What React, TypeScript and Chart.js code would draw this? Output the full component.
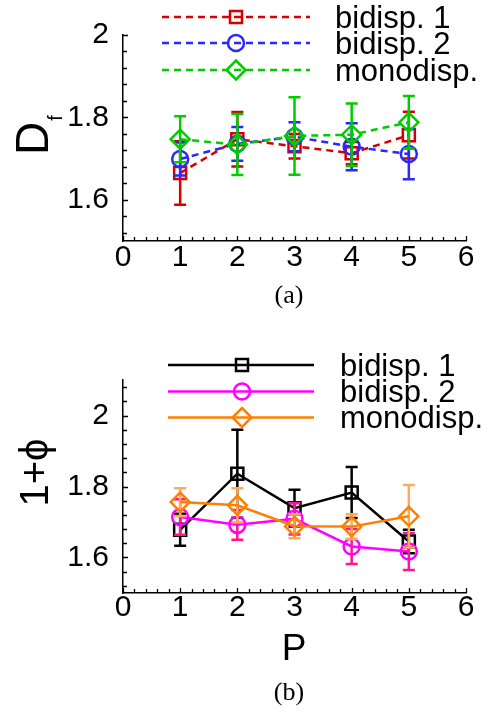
import React, { useEffect, useRef } from "react";
import { Chart, registerables } from "chart.js";

Chart.register(...registerables);

// ---------- data ----------
const P_VALUES = [1, 2, 3, 4, 5];
const X_TICKS = [0, 1, 2, 3, 4, 5, 6];
const Y_TICKS = [1.6, 1.8, 2];
const SERIES_LABELS = ["bidisp. 1", "bidisp. 2", "monodisp."];

// panel (a): D_f
const DF_BIDISP1 = [1.665, 1.747, 1.73, 1.713, 1.757];
const DF_BIDISP1_ERR = [0.077, 0.066, 0.03, 0.027, 0.057];
const DF_BIDISP2 = [1.699, 1.736, 1.753, 1.729, 1.711];
const DF_BIDISP2_ERR = [0.04, 0.041, 0.035, 0.057, 0.061];
const DF_MONO = [1.747, 1.734, 1.755, 1.758, 1.788];
const DF_MONO_ERR = [0.056, 0.074, 0.094, 0.076, 0.064];

// panel (b): 1+phi
const PHI_BIDISP1 = [1.678, 1.836, 1.739, 1.783, 1.645];
const PHI_BIDISP1_ERR = [0.045, 0.124, 0.052, 0.072, 0.033];
const PHI_BIDISP2 = [1.714, 1.692, 1.709, 1.631, 1.617];
const PHI_BIDISP2_ERR = [0.05, 0.042, 0.044, 0.049, 0.052];
const PHI_MONO = [1.756, 1.747, 1.688, 1.687, 1.716];
const PHI_MONO_ERR = [0.039, 0.048, 0.034, 0.035, 0.088];

const SANS = "'Liberation Sans', Arial, Helvetica, sans-serif";
const SERIF = "'Liberation Serif', 'DejaVu Serif', serif";

type Marker = "rect" | "circle" | "rectRot";

const MARKER_RADIUS: Record<Marker, number> = { rect: 8.5, circle: 8, rectRot: 9.5 };

function drawMarker(ctx: CanvasRenderingContext2D, m: Marker, x: number, y: number) {
  ctx.beginPath();
  if (m === "rect") {
    ctx.rect(x - 6, y - 6, 12, 12);
  } else if (m === "circle") {
    ctx.arc(x, y, 8, 0, Math.PI * 2);
  } else {
    const r = 9.5;
    ctx.moveTo(x, y - r);
    ctx.lineTo(x + r, y);
    ctx.lineTo(x, y + r);
    ctx.lineTo(x - r, y);
    ctx.closePath();
  }
  ctx.stroke();
}

interface SeriesCfg {
  label: string;
  values: number[];
  errs: number[];
  color: string;
  errColor: string;
  marker: Marker;
  dash: number[];
}

interface PanelCfg {
  height: number;
  yMax: number;
  top: number;
  bottom: number; // chart area bottom in canvas px
  series: SeriesCfg[];
  legend: { x0: number; x1: number; xm: number; xt: number; rows: number[] };
  drawYTitle: (ctx: CanvasRenderingContext2D) => void;
  drawXTitle?: (ctx: CanvasRenderingContext2D) => void;
  caption: { text: string; x: number; y: number };
  xTickPad: number;
}

function makeChart(canvas: HTMLCanvasElement, cfg: PanelCfg) {
  const W = 497;
  const right = 466;
  const left = 123;
  const xAxisH = 50;
  const padBottom = cfg.height - cfg.bottom - xAxisH;

  const n = cfg.series.length;
  const datasets = cfg.series.map((s, i) => ({
    label: s.label,
    data: P_VALUES.map((p, k) => ({ x: p, y: s.values[k] })),
    borderColor: s.color,
    backgroundColor: "transparent",
    borderWidth: 2.5,
    borderDash: s.dash,
    pointStyle: s.marker,
    pointRadius: MARKER_RADIUS[s.marker],
    pointBorderWidth: 2.5,
    pointBorderColor: s.color,
    pointBackgroundColor: "transparent",
    tension: 0,
    fill: false,
    clip: false,
    order: n - 1 - i,
    errors: s.errs,
    errorColor: s.errColor,
  }));

  const decor = {
    id: "decor",
    beforeDatasetDraw(chart: any, args: any) {
      const ds = chart.data.datasets[args.index];
      if (!ds.errors) return;
      const ctx = chart.ctx as CanvasRenderingContext2D;
      const xs = chart.scales.x;
      const ys = chart.scales.y;
      ctx.save();
      ctx.strokeStyle = ds.errorColor;
      ctx.lineWidth = 2.5;
      ctx.setLineDash([]);
      ds.data.forEach((pt: any, i: number) => {
        const x = xs.getPixelForValue(pt.x);
        const yTop = ys.getPixelForValue(pt.y + ds.errors[i]);
        const yBot = ys.getPixelForValue(pt.y - ds.errors[i]);
        ctx.beginPath();
        ctx.moveTo(x, yTop);
        ctx.lineTo(x, yBot);
        ctx.moveTo(x - 6, yTop);
        ctx.lineTo(x + 6, yTop);
        ctx.moveTo(x - 6, yBot);
        ctx.lineTo(x + 6, yBot);
        ctx.stroke();
      });
      ctx.restore();
    },
    afterDraw(chart: any) {
      const ctx = chart.ctx as CanvasRenderingContext2D;
      const xs = chart.scales.x;
      const ys = chart.scales.y;
      const area = chart.chartArea;
      ctx.save();
      // inward ticks
      ctx.strokeStyle = "#000";
      ctx.lineWidth = 1.3;
      ctx.beginPath();
      for (let k = 0; k <= 30; k++) {
        const v = k * 0.2;
        const x = Math.round(xs.getPixelForValue(v)) + 0.5;
        const len = k % 5 === 0 ? 5 : 4;
        ctx.moveTo(x, area.bottom);
        ctx.lineTo(x, area.bottom - len);
      }
      for (let k = 0; ; k++) {
        const v = 1.52 + k * 0.04;
        if (v > cfg.yMax + 1e-6) break;
        const y = Math.round(ys.getPixelForValue(v)) + 0.5;
        const major = Math.abs(v - 1.6) < 1e-6 || Math.abs(v - 1.8) < 1e-6 || Math.abs(v - 2) < 1e-6;
        ctx.moveTo(area.left, y);
        ctx.lineTo(area.left + (major ? 5 : 4), y);
      }
      ctx.stroke();

      // legend
      const lg = cfg.legend;
      cfg.series.forEach((s, i) => {
        const y = lg.rows[i];
        ctx.strokeStyle = s.color;
        ctx.lineWidth = 2.5;
        ctx.setLineDash(s.dash);
        ctx.beginPath();
        ctx.moveTo(lg.x0, y);
        ctx.lineTo(lg.x1, y);
        ctx.stroke();
        ctx.setLineDash([]);
        drawMarker(ctx, s.marker, lg.xm, y);
        ctx.fillStyle = "#000";
        ctx.font = `31px ${SANS}`;
        ctx.textAlign = "left";
        ctx.textBaseline = "alphabetic";
        ctx.fillText(s.label, lg.xt, y + 10.5);
      });

      // titles
      ctx.fillStyle = "#000";
      cfg.drawYTitle(ctx);
      if (cfg.drawXTitle) cfg.drawXTitle(ctx);
      ctx.font = `26px ${SERIF}`;
      ctx.textAlign = "center";
      ctx.textBaseline = "alphabetic";
      ctx.fillText(cfg.caption.text, cfg.caption.x, cfg.caption.y);
      ctx.restore();
    },
  };

  return new Chart(canvas, {
    type: "line",
    data: { datasets: datasets as any },
    options: {
      responsive: false,
      animation: false,
      devicePixelRatio: 1,
      events: [],
      layout: { padding: { left: 0, right: W - right, top: cfg.top, bottom: padBottom } },
      plugins: { legend: { display: false }, tooltip: { enabled: false }, title: { display: false } },
      scales: {
        x: {
          type: "linear",
          min: 0,
          max: 6,
          grid: { display: false },
          border: { display: true, color: "#000", width: 1.5 },
          ticks: {
            color: "#000",
            font: { family: SANS, size: 30 },
            padding: cfg.xTickPad,
            autoSkip: false,
            maxRotation: 0,
            callback: (v: any) => String(v),
          },
          afterBuildTicks: (s: any) => {
            s.ticks = X_TICKS.map((v) => ({ value: v }));
          },
          afterFit: (s: any) => {
            s.height = xAxisH;
          },
        },
        y: {
          type: "linear",
          min: 1.5,
          max: cfg.yMax,
          grid: { display: false },
          border: { display: true, color: "#000", width: 1.5 },
          ticks: {
            color: "#000",
            font: { family: SANS, size: 30 },
            padding: 6,
            autoSkip: false,
            callback: (v: any) => String(v),
          },
          afterBuildTicks: (s: any) => {
            s.ticks = Y_TICKS.map((v) => ({ value: v }));
          },
          afterFit: (s: any) => {
            s.width = left;
          },
        },
      },
    } as any,
    plugins: [decor],
  });
}

const PANEL_A: PanelCfg = {
  height: 330,
  yMax: 2,
  top: 35,
  bottom: 241,
  xTickPad: -9,
  series: [
    { label: SERIES_LABELS[0], values: DF_BIDISP1, errs: DF_BIDISP1_ERR, color: "rgb(215,0,0)", errColor: "rgb(215,0,0)", marker: "rect", dash: [7, 5] },
    { label: SERIES_LABELS[1], values: DF_BIDISP2, errs: DF_BIDISP2_ERR, color: "rgb(40,40,255)", errColor: "rgb(40,40,255)", marker: "circle", dash: [7, 5] },
    { label: SERIES_LABELS[2], values: DF_MONO, errs: DF_MONO_ERR, color: "rgb(0,205,0)", errColor: "rgb(0,205,0)", marker: "rectRot", dash: [7, 5] },
  ],
  legend: { x0: 162, x1: 310, xm: 236, xt: 335, rows: [17, 43, 70] },
  drawYTitle: (ctx) => {
    ctx.save();
    ctx.translate(48, 155);
    ctx.rotate(-Math.PI / 2);
    ctx.textAlign = "left";
    ctx.textBaseline = "alphabetic";
    ctx.font = `46px ${SANS}`;
    ctx.fillText("D", 0, 0);
    const w = ctx.measureText("D").width;
    ctx.font = `20px ${SANS}`;
    ctx.fillText("f", w + 1, 14);
    ctx.restore();
  },
  caption: { text: "(a)", x: 289, y: 303 },
};

const PANEL_B: PanelCfg = {
  height: 383,
  yMax: 2.1,
  top: 50,
  bottom: 263,
  xTickPad: -11,
  series: [
    { label: SERIES_LABELS[0], values: PHI_BIDISP1, errs: PHI_BIDISP1_ERR, color: "#000000", errColor: "#000000", marker: "rect", dash: [] },
    { label: SERIES_LABELS[1], values: PHI_BIDISP2, errs: PHI_BIDISP2_ERR, color: "rgb(255,0,255)", errColor: "rgb(255,20,150)", marker: "circle", dash: [] },
    { label: SERIES_LABELS[2], values: PHI_MONO, errs: PHI_MONO_ERR, color: "rgb(255,128,0)", errColor: "rgb(255,170,90)", marker: "rectRot", dash: [] },
  ],
  legend: { x0: 168, x1: 314, xm: 242, xt: 340, rows: [35, 61.5, 87.5] },
  drawYTitle: (ctx) => {
    ctx.save();
    ctx.translate(48, 142.5);
    ctx.rotate(-Math.PI / 2);
    ctx.textAlign = "center";
    ctx.textBaseline = "alphabetic";
    ctx.font = `40px ${SANS}`;
    ctx.fillText("1+\u03D5", 0, 0);
    ctx.restore();
  },
  drawXTitle: (ctx) => {
    ctx.save();
    ctx.textAlign = "center";
    ctx.textBaseline = "alphabetic";
    ctx.font = `37px ${SANS}`;
    ctx.fillText("P", 294, 330);
    ctx.restore();
  },
  caption: { text: "(b)", x: 289, y: 370 },
};

export default function App() {
  const refA = useRef<HTMLCanvasElement | null>(null);
  const refB = useRef<HTMLCanvasElement | null>(null);

  useEffect(() => {
    const a = refA.current ? makeChart(refA.current, PANEL_A) : null;
    const b = refB.current ? makeChart(refB.current, PANEL_B) : null;
    return () => {
      a?.destroy();
      b?.destroy();
    };
  }, []);

  return (
    <div style={{ position: "absolute", left: 0, top: 0, width: 497, height: 713, background: "#fff" }}>
      <canvas ref={refA} width={497} height={330} style={{ display: "block", width: 497, height: 330 }} />
      <canvas ref={refB} width={497} height={383} style={{ display: "block", width: 497, height: 383 }} />
    </div>
  );
}
